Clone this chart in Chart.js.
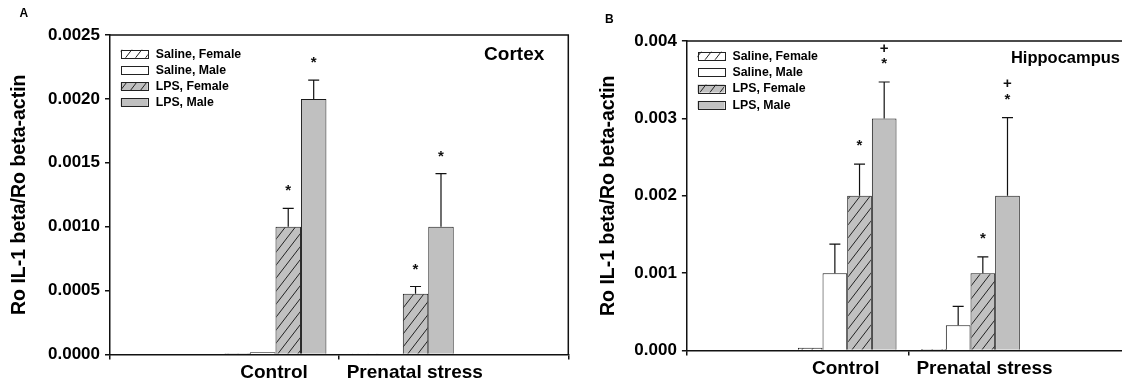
<!DOCTYPE html>
<html><head><meta charset="utf-8">
<script src="https://cdn.jsdelivr.net/npm/chart.js@4.4.1/dist/chart.umd.min.js"></script>
<style>
html,body{margin:0;padding:0;background:#fff;overflow:hidden;width:1122px;height:383px;position:relative;}
#wrapA{position:absolute;left:0;top:0;width:580px;height:383px;}
#wrapB{position:absolute;left:561px;top:0;width:600px;height:383px;}
canvas{display:block;}
</style></head><body>
<div id="wrapA"><canvas id="cA" width="580" height="383"></canvas></div>
<div id="wrapB"><canvas id="cB" width="600" height="383"></canvas></div>
<script>
// ---------- data ----------
const categories = ['Control', 'Prenatal stress'];
const seriesNames = ['Saline, Female', 'Saline, Male', 'LPS, Female', 'LPS, Male'];

// Panel A - Cortex
const cortexTickLabels = ['0.0000', '0.0005', '0.0010', '0.0015', '0.0020', '0.0025'];
const cortexSalineFemale = [0.000010, 0.000008];
const cortexSalineMale = [0.000018, 0.000008];
const cortexLpsFemale = [0.00100, 0.000475];
const cortexLpsMale = [0.00200, 0.00100];
const cortexSalineFemaleErr = [0, 0];
const cortexSalineMaleErr = [0, 0];
const cortexLpsFemaleErr = [0.000144, 0.000057];
const cortexLpsMaleErr = [0.000147, 0.000416];
const cortexSalineFemaleMarks = [[], []];
const cortexSalineMaleMarks = [[], []];
const cortexLpsFemaleMarks = [['*'], ['*']];
const cortexLpsMaleMarks = [['*'], ['*']];

// Panel B - Hippocampus
const hippoTickLabels = ['0.000', '0.001', '0.002', '0.003', '0.004'];
const hippoSalineFemale = [0.000035, 0.000020];
const hippoSalineMale = [0.00100, 0.000325];
const hippoLpsFemale = [0.00200, 0.00100];
const hippoLpsMale = [0.00300, 0.00200];
const hippoSalineFemaleErr = [0, 0];
const hippoSalineMaleErr = [0.000375, 0.000245];
const hippoLpsFemaleErr = [0.00041, 0.00021];
const hippoLpsMaleErr = [0.00047, 0.00101];
const hippoSalineFemaleMarks = [[], []];
const hippoSalineMaleMarks = [[], []];
const hippoLpsFemaleMarks = [['*'], ['*']];
const hippoLpsMaleMarks = [['*', '+'], ['*', '+']];

// ---------- styling ----------
const FONT = "'Liberation Sans', Arial, Helvetica, sans-serif";
const INK = '#111';
const GRAY = '#c0c0c0';

function hatch(bg) {
  const w = 10, h = 13;
  const c = document.createElement('canvas'); c.width = w; c.height = h;
  const g = c.getContext('2d');
  g.fillStyle = bg; g.fillRect(0, 0, w, h);
  g.strokeStyle = '#222'; g.lineWidth = 1;
  g.beginPath();
  for (const dx of [-w, 0, w]) { g.moveTo(dx, h); g.lineTo(dx + w, 0); }
  g.stroke();
  return g.createPattern(c, 'repeat');
}
const fills = [hatch('#ffffff'), '#ffffff', hatch(GRAY), GRAY];

const errorPlugin = {
  id: 'errs',
  afterDatasetsDraw(chart) {
    const ctx = chart.ctx, ys = chart.scales.y;
    const o = chart.options.plugins.errs;
    ctx.save();
    chart.data.datasets.forEach((ds, di) => {
      const meta = chart.getDatasetMeta(di);
      meta.data.forEach((el, i) => {
        const v = ds.data[i].y, e = ds.errors[i];
        let top = el.y;
        if (e > 0) {
          const ye = ys.getPixelForValue(v + e);
          ctx.strokeStyle = INK; ctx.lineWidth = 1.2;
          ctx.beginPath();
          ctx.moveTo(el.x, el.y); ctx.lineTo(el.x, ye);
          ctx.moveTo(el.x - o.cap / 2, ye); ctx.lineTo(el.x + o.cap / 2, ye);
          ctx.stroke();
          top = ye;
        }
        const marks = ds.marks[i];
        ctx.fillStyle = INK;
        ctx.font = 'bold ' + o.markSize + 'px ' + FONT;
        ctx.textAlign = 'center'; ctx.textBaseline = 'alphabetic';
        marks.forEach((m, k) => {
          const yc = top - o.markGap - k * o.stackGap;
          const mt = ctx.measureText(m);
          const base = yc + (mt.actualBoundingBoxAscent - mt.actualBoundingBoxDescent) / 2;
          ctx.fillText(m, el.x, base);
        });
      });
    });
    ctx.restore();
  }
};

const framePlugin = {
  id: 'frame',
  afterDraw(chart) {
    const {ctx, chartArea: a} = chart;
    const o = chart.options.plugins.frame;
    ctx.save();
    ctx.strokeStyle = INK; ctx.lineWidth = 1.5;
    ctx.beginPath();
    ctx.moveTo(a.left, a.top); ctx.lineTo(a.right, a.top); ctx.lineTo(a.right, a.bottom);
    ctx.stroke();
    // category labels
    const xs = chart.scales.x;
    ctx.fillStyle = '#000';
    ctx.font = 'bold 19px ' + FONT;
    ctx.textAlign = 'center'; ctx.textBaseline = 'alphabetic';
    categories.forEach((c, i) => {
      ctx.fillText(c, xs.getPixelForValue(i + 1) + o.labelShift[i], a.bottom + 23);
    });
    // region title
    ctx.font = 'bold ' + o.titleSize + 'px ' + FONT;
    ctx.textAlign = 'right';
    ctx.fillText(o.title, a.right - o.titleRight, a.top + o.titleBase);
    // panel letter
    ctx.font = 'bold 12px ' + FONT;
    ctx.textAlign = 'left';
    ctx.fillText(o.letter, o.letterX, o.letterY);
    // legend
    const L = o.legend;
    ctx.font = 'bold 12.3px ' + FONT;
    ctx.textBaseline = 'middle';
    chart.data.datasets.forEach((ds, k) => {
      const yc = a.top + L.y0 + k * L.dy;
      const x0 = a.left + L.x;
      ctx.fillStyle = ds.backgroundColor;
      ctx.fillRect(x0, yc - 4, 27, 8);
      ctx.strokeStyle = '#222'; ctx.lineWidth = 1;
      ctx.strokeRect(Math.round(x0) + 0.5, Math.round(yc - 4) + 0.5, 27, 8);
      ctx.fillStyle = '#000';
      ctx.fillText(ds.label, x0 + 35, yc + 0.5);
    });
    ctx.restore();
  }
};

function makeChart(id, cfg) {
  const datasets = cfg.series.map((s, k) => ({
    label: seriesNames[k],
    data: categories.map((c, i) => ({x: i + 1, y: s.values[i]})),
    errors: s.errors,
    marks: s.marks,
    backgroundColor: fills[k],
    borderColor: '#1a1a1a',
    borderWidth: 1,
    borderSkipped: 'start',
    categoryPercentage: 0.8,
    barPercentage: 1.0
  }));
  const tickVals = cfg.tickLabels.map(parseFloat);
  return new Chart(document.getElementById(id), {
    type: 'bar',
    data: {datasets},
    plugins: [errorPlugin, framePlugin],
    options: {
      responsive: false,
      animation: false,
      layout: {padding: {left: 0, top: cfg.top, right: cfg.right, bottom: 0}},
      plugins: {
        legend: {display: false},
        tooltip: {enabled: false},
        errs: {cap: 11, markSize: 15, markGap: cfg.markGap, stackGap: 13.5},
        frame: cfg.frame
      },
      scales: {
        x: {
          type: 'linear', min: -0.3, max: 3.3, offset: false,
          afterBuildTicks: (s) => { s.ticks = [-0.3, 1.5, 3.3].map(v => ({value: v})); },
          afterFit: (s) => { s.height = cfg.xHeight; },
          ticks: {display: false},
          grid: {offset: false, drawOnChartArea: false, drawTicks: true, tickLength: 5, color: INK, lineWidth: 1.5},
          border: {display: true, color: INK, width: 1.5}
        },
        y: {
          type: 'linear', min: 0, max: tickVals[tickVals.length - 1],
          afterBuildTicks: (s) => { s.ticks = tickVals.map(v => ({value: v})); },
          afterFit: (s) => { s.width = cfg.yWidth; },
          ticks: {
            callback: (v, i) => cfg.tickLabels[i],
            color: '#000', padding: 5,
            font: {family: FONT, size: 17, weight: 'bold'}
          },
          grid: {drawOnChartArea: false, drawTicks: true, tickLength: 5, color: INK, lineWidth: 1.5},
          border: {display: true, color: INK, width: 1.5},
          title: {
            display: true, text: 'Ro IL-1 beta/Ro beta-actin', color: '#000',
            font: {family: FONT, size: 19.5, weight: 'bold'},
            padding: {top: cfg.titlePad, bottom: 0}
          }
        }
      }
    }
  });
}

makeChart('cA', {
  tickLabels: cortexTickLabels,
  series: [
    {values: cortexSalineFemale, errors: cortexSalineFemaleErr, marks: cortexSalineFemaleMarks},
    {values: cortexSalineMale, errors: cortexSalineMaleErr, marks: cortexSalineMaleMarks},
    {values: cortexLpsFemale, errors: cortexLpsFemaleErr, marks: cortexLpsFemaleMarks},
    {values: cortexLpsMale, errors: cortexLpsMaleErr, marks: cortexLpsMaleMarks}
  ],
  top: 35, right: 11.7, yWidth: 110, xHeight: 28.5, titlePad: 8, markGap: 20,
  frame: {labelShift: [-1.5, 12], title: 'Cortex', titleSize: 19, titleRight: 24, titleBase: 24.5,
          letter: 'A', letterX: 19.6, letterY: 16.7,
          legend: {x: 10.7, y0: 18.7, dy: 16.2}}
});

makeChart('cB', {
  tickLabels: hippoTickLabels,
  series: [
    {values: hippoSalineFemale, errors: hippoSalineFemaleErr, marks: hippoSalineFemaleMarks},
    {values: hippoSalineMale, errors: hippoSalineMaleErr, marks: hippoSalineMaleMarks},
    {values: hippoLpsFemale, errors: hippoLpsFemaleErr, marks: hippoLpsFemaleMarks},
    {values: hippoLpsMale, errors: hippoLpsMaleErr, marks: hippoLpsMaleMarks}
  ],
  top: 41, right: 30.2, yWidth: 125.9, xHeight: 32.5, titlePad: 36.3, markGap: 21,
  frame: {labelShift: [-1.5, 14], title: 'Hippocampus', titleSize: 16.5, titleRight: 10.8, titleBase: 22.3,
          letter: 'B', letterX: 44, letterY: 23.3,
          legend: {x: 10.6, y0: 14.7, dy: 16.4}}
});
</script>
</body></html>
